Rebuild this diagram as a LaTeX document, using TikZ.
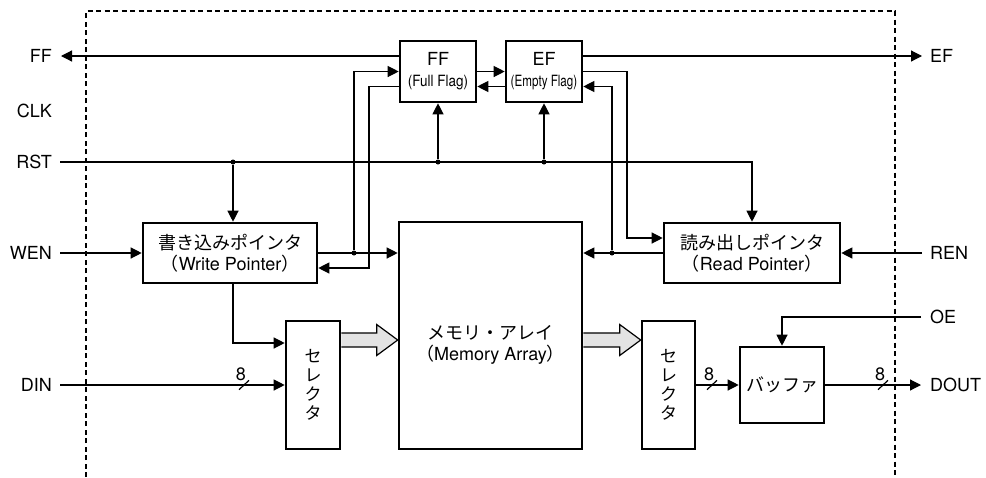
\documentclass[tikz,border=0pt]{standalone}
\usepackage{fontspec}
\setmainfont{TeX Gyre Heros}
\newfontfamily\jp{Noto Sans CJK JP}
\usepackage{graphicx}
\usetikzlibrary{arrows.meta,positioning,calc}

\newcommand{\jlp}{{\jp （}}
\newcommand{\jrp}{{\jp ）}}

% wide hollow arrow between two blocks
\newcommand{\fatarrow}[2]{%
  \draw[fat] let \p1=(#1), \p2=(#2) in
    (\x1,\y1+7pt) -- (\x2-21pt,\y1+7pt) -- (\x2-21pt,\y1+15.5pt) -- (\x2,\y1)
    -- (\x2-21pt,\y1-15.5pt) -- (\x2-21pt,\y1-7pt) -- (\x1,\y1-7pt);}

\tikzset{
  blk/.style={draw, line width=2.6pt, inner sep=0pt, align=center, font=\fontsize{18}{21}\selectfont},
  sel/.style={blk, minimum width=54pt, minimum height=128pt, font=\jp\fontsize{17}{19}\selectfont},
  sig/.style={inner sep=0pt, font=\fontsize{18}{21}\selectfont},
  arr/.style={line width=1.2pt, -{Triangle[length=11pt,width=11pt]}},
  wire/.style={line width=1.2pt},
  jdot/.style={circle, fill, inner sep=0pt, minimum size=5pt},
  dashframe/.style={line width=1.1pt, dash pattern=on 5pt off 3.5pt},
  fat/.style={draw, line width=1.2pt, fill=gray!22, line join=miter},
  busmark/.pic={
    \draw[wire] (-5,4.7) -- (5,-4.7);
    \node[sig, font=\fontsize{18}{18}\selectfont] at (-3,-11) {8};
  }
}

\begin{document}
\begin{tikzpicture}[x=1pt, y=-1pt]
\useasboundingbox (0,0) rectangle (986,477);

% chip outline
\draw[dashframe] (86,477) -- (86,11) -- (895,11) -- (895,477);

% blocks
\node[blk, minimum width=76pt, minimum height=61pt] (ff) at (438,71.5)
  {FF\\{\fontsize{15.5}{15}\selectfont\scalebox{0.87}[1]{(Full Flag)}}};
\node[blk, minimum width=76pt, minimum height=61pt] (ef) at (544,71.5)
  {EF\\{\fontsize{15.5}{15}\selectfont\scalebox{0.75}[1]{(Empty Flag)}}};
\node[blk, minimum width=174pt, minimum height=60pt] (wp) at (230,253)
  {{\jp 書き込みポインタ}\\\jlp Write Pointer\jrp};
\node[blk, minimum width=176pt, minimum height=60pt] (rp) at (752,253)
  {{\jp 読み出しポインタ}\\\jlp Read Pointer\jrp};
\node[blk, minimum width=183pt, minimum height=227pt] (mem) at (490.5,335.5) {};
\node[sig, align=center] (memtxt) at (490.5,345)
  {{\jp メモリ・アレイ}\\\jlp Memory Array\jrp};
\node[sel] (selL) at (313,385) {セ\\レ\\ク\\タ};
\node[sel, minimum width=53pt] (selR) at (668.5,385) {セ\\レ\\ク\\タ};
\node[blk, minimum width=84pt, minimum height=76pt, font=\jp\fontsize{18}{21}\selectfont] (buf) at (782,385) {バッファ};

% pins
\coordinate (pFF) at (61,56);
\coordinate (pCLK) at (60,111);
\coordinate (pRST) at (60,162);
\coordinate (pWEN) at (60,253);
\coordinate (pDIN) at (60,385);
\coordinate (pEF) at (922,56);
\coordinate (pREN) at (922,253);
\coordinate (pOE) at (921,317);
\coordinate (pDOUT) at (921,385);

\node[sig, left=9pt of pFF] (lFF) {FF};
\node[sig, left=8pt of pCLK] (lCLK) {CLK};
\node[sig, left=8pt of pRST] (lRST) {RST};
\node[sig, left=8pt of pWEN] (lWEN) {WEN};
\node[sig, left=8pt of pDIN] (lDIN) {DIN};
\node[sig, right=8pt of pEF] (lEF) {EF};
\node[sig, right=8pt of pREN] (lREN) {REN};
\node[sig, right=9pt of pOE] (lOE) {OE};
\node[sig, right=9pt of pDOUT] (lDOUT) {DOUT};

% junctions and bends
\node[jdot] (dW) at (233,162) {};
\node[jdot] (dF) at (ff.south |- pRST) {};
\node[jdot] (dE) at (ef.south |- pRST) {};
\node[jdot] (jW) at (354,253) {};
\node[jdot] (jR) at (612,253) {};
\coordinate (cW) at (369,268);
\coordinate (cR) at (627,238);
\coordinate (cS) at (233,343);

% flags
\draw[arr] (ff.west |- pFF) -- (pFF);
\draw[arr] (ef.east |- pEF) -- (pEF);
\draw[arr] (ff.east) -- (ef.west);
\draw[arr] ([yshift=-15pt]ef.west) -- ([yshift=-15pt]ff.east);

% reset
\draw[arr] (pRST) -| (rp.north);
\draw[arr] (dW) -- (dW |- wp.north);
\draw[arr] (dF) -- (ff.south);
\draw[arr] (dE) -- (ef.south);

% write side
\draw[arr] (pWEN) -- (wp.west);
\draw[arr] (wp.east) -- (mem.west |- wp.east);
\draw[arr] (jW) |- (ff.west);
\draw[arr] ([yshift=-15pt]ff.west) -| (cW) -- (wp.east |- cW);
\draw[arr] (dW |- wp.south) -- (cS) -- (selL.west |- cS);
\draw[arr] (pDIN) -- (selL.west |- pDIN);
\pic at (244,385) {busmark};

% read side
\draw[arr] (pREN) -- (rp.east);
\draw[arr] (rp.west) -- (mem.east |- rp.west);
\draw[arr] (jR) |- ([yshift=-15pt]ef.east);
\draw[arr] (ef.east) -| (cR) -- (rp.west |- cR);

% data path
\coordinate (fa1) at (340,340);
\coordinate (fa2) at (582,340);
\fatarrow{selL.east |- fa1}{mem.west |- fa1}
\fatarrow{mem.east |- fa2}{selR.west |- fa2}
\draw[arr] (selR.east) -- (selR.east -| buf.west);
\pic at (712,385) {busmark};
\draw[arr] (buf.east) -- (pDOUT);
\pic at (883,385) {busmark};
\draw[arr] (pOE) -| (buf.north);
\end{tikzpicture}
\end{document}
